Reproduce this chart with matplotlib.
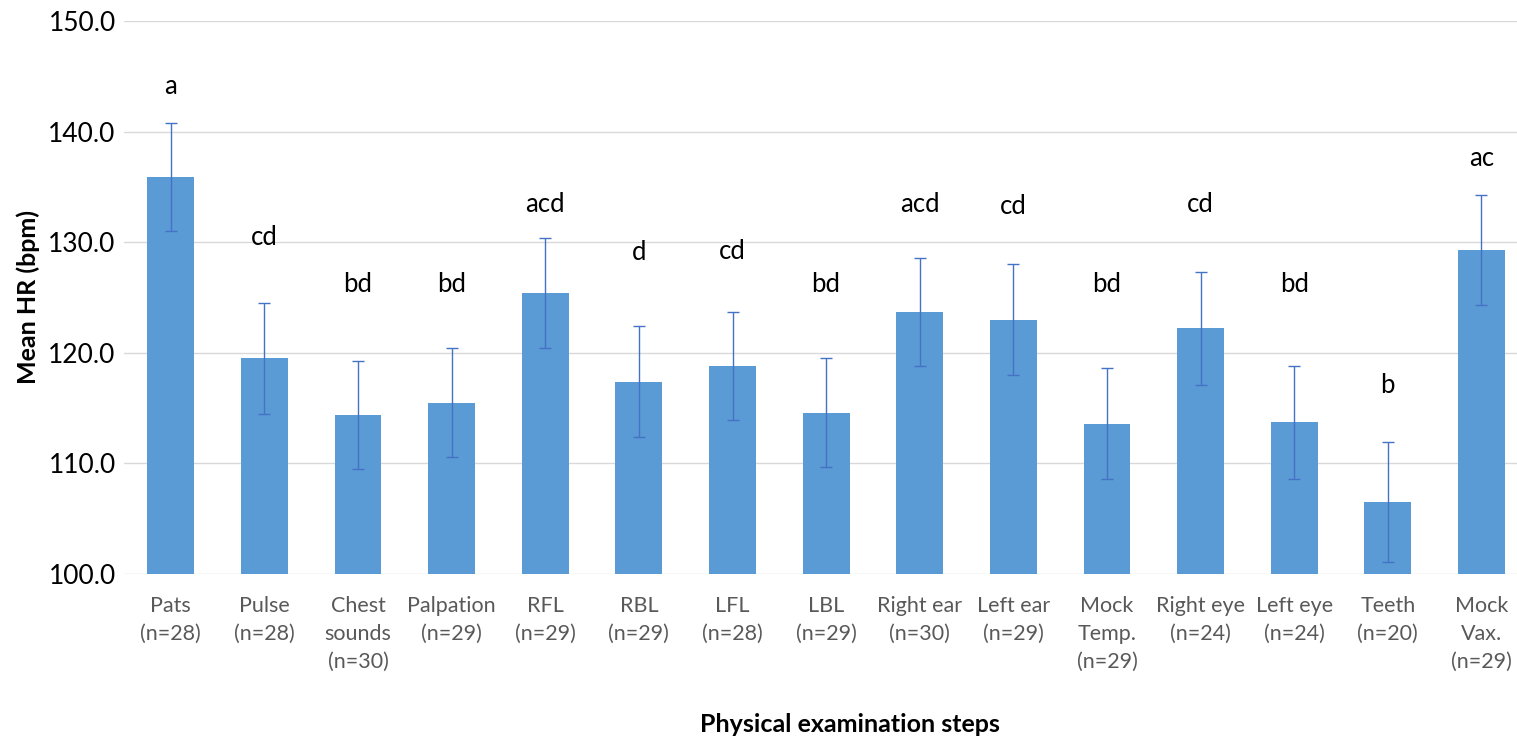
import matplotlib
matplotlib.use("Agg")
import matplotlib.pyplot as plt
import numpy as np

steps = ["Pats\n(n=28)", "Pulse\n(n=28)", "Chest\nsounds\n(n=30)", "Palpation\n(n=29)",
         "RFL\n(n=29)", "RBL\n(n=29)", "LFL\n(n=28)", "LBL\n(n=29)", "Right ear\n(n=30)",
         "Left ear\n(n=29)", "Mock\nTemp.\n(n=29)", "Right eye\n(n=24)", "Left eye\n(n=24)",
         "Teeth\n(n=20)", "Mock\nVax.\n(n=29)"]
mean_hr = [135.9, 119.5, 114.4, 115.5, 125.4, 117.4, 118.8, 114.6, 123.7, 123.0,
           113.6, 122.2, 113.7, 106.5, 129.3]
err = [4.9, 5.0, 4.9, 4.9, 5.0, 5.0, 4.9, 4.9, 4.9, 5.0, 5.0, 5.1, 5.1, 5.45, 5.0]
letters = ["a", "cd", "bd", "bd", "acd", "d", "cd", "bd", "acd", "cd", "bd", "cd", "bd", "b", "ac"]
letter_y = [144.1, 130.4, 126.2, 126.2, 133.4, 129.1, 129.2, 126.2, 133.4, 133.2,
            126.2, 133.4, 126.2, 117.0, 137.6]

plt.rcParams['font.family'] = ['Lato', 'DejaVu Sans']

fig = plt.figure(figsize=(15.17, 7.4), dpi=100)
ax = fig.add_axes([124 / 1517, 166 / 740, 1 - 124 / 1517, (574 - 21) / 740])

x = np.arange(len(steps))
ax.bar(x, mean_hr, width=0.5, color="#5B9BD5", zorder=2)
ax.errorbar(x, mean_hr, yerr=err, fmt="none", ecolor="#4472C4", elinewidth=1,
            capsize=4, capthick=1, zorder=3)
for xi, lab, ly in zip(x, letters, letter_y):
    ax.text(xi, ly, lab, ha="center", va="center", fontsize=18.5, color="black")

ax.set_ylim(100, 150)
ax.set_xlim(-0.5, 14.38)
ax.set_yticks([100, 110, 120, 130, 140, 150])
ax.set_yticklabels(["%.1f" % v for v in [100, 110, 120, 130, 140, 150]], fontsize=19)
ax.set_xticks(x)
ax.set_xticklabels(steps, fontsize=15.5, color="#595959", linespacing=1.5, va="top")
ax.tick_params(length=0)
ax.tick_params(axis="y", pad=6)
ax.tick_params(axis="x", pad=16)
ax.grid(axis="y", color="#D9D9D9", linewidth=1, zorder=0)
for s in ax.spines.values():
    s.set_visible(False)
ax.set_axisbelow(True)

fig.text(28 / 1517, 1 - 297 / 740, "Mean HR (bpm)", rotation=90, ha="center", va="center",
         fontsize=18, fontweight="bold")
fig.text(850 / 1517, 1 - 724 / 740, "Physical examination steps", ha="center", va="center",
         fontsize=18, fontweight="bold")

fig.savefig("out.png", dpi=100, facecolor="white")
